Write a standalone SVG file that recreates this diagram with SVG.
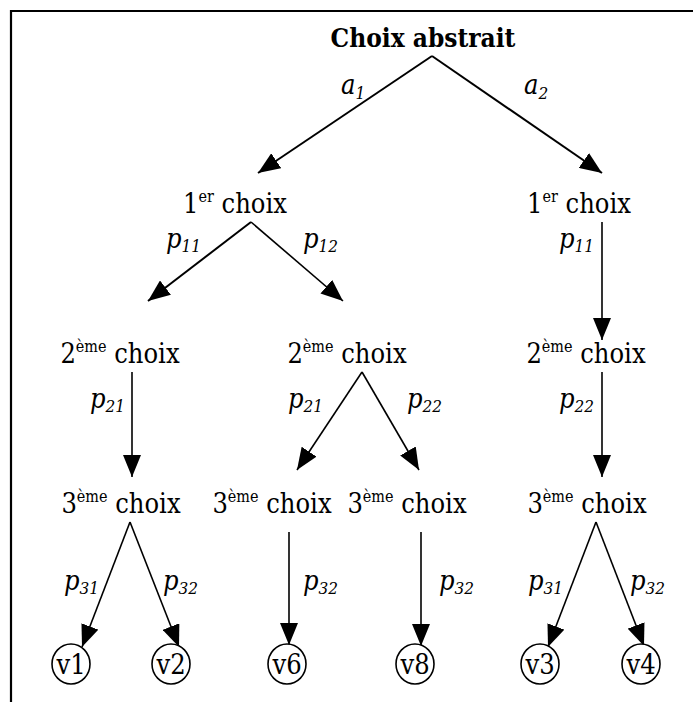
<svg xmlns="http://www.w3.org/2000/svg" width="693" height="702" viewBox="0 0 693 702" font-family="'DejaVu Serif Condensed', 'DejaVu Serif', serif">
<style>
.t{font-size:27px}
.b{font-weight:bold;font-size:26px}
.sup{font-size:16px}
.lab{font-size:27px;font-style:italic}
.sub{font-size:17px}
.e{stroke:#000;stroke-width:2;fill:none}
.e1{stroke:#000;stroke-width:1.6;fill:none}
.c{fill:#fff;stroke:#000;stroke-width:1.6}
</style>
<defs>
<marker id="ah" markerUnits="userSpaceOnUse" markerWidth="24" markerHeight="18" refX="22" refY="9" orient="auto">
<path d="M0,0 L22,9 L0,18 z" fill="#000"/>
</marker>
</defs>
<rect width="693" height="702" fill="#fff"/>
<path d="M11,702 V11 H693" stroke="#000" stroke-width="2.2" fill="none"/>

<g id="connectors">
<line class="e" x1="432" y1="56" x2="258" y2="173" marker-end="url(#ah)"/>
<line class="e" x1="432" y1="56" x2="602" y2="173" marker-end="url(#ah)"/>
<line class="e" x1="251" y1="222" x2="148" y2="301" marker-end="url(#ah)"/>
<line class="e1" x1="251" y1="222" x2="343" y2="301" marker-end="url(#ah)"/>
<line class="e1" x1="602" y1="222" x2="602" y2="340" marker-end="url(#ah)"/>
<line class="e1" x1="132" y1="372" x2="132" y2="477" marker-end="url(#ah)"/>
<line class="e1" x1="362" y1="372" x2="297" y2="470" marker-end="url(#ah)"/>
<line class="e1" x1="362" y1="372" x2="419" y2="470" marker-end="url(#ah)"/>
<line class="e1" x1="602" y1="372" x2="602" y2="477" marker-end="url(#ah)"/>
<line class="e1" x1="130" y1="522" x2="82" y2="647" marker-end="url(#ah)"/>
<line class="e1" x1="130" y1="522" x2="179" y2="647" marker-end="url(#ah)"/>
<line class="e1" x1="289" y1="532" x2="289" y2="645" marker-end="url(#ah)"/>
<line class="e1" x1="421" y1="532" x2="421" y2="646" marker-end="url(#ah)"/>
<line class="e1" x1="596" y1="522" x2="548" y2="647" marker-end="url(#ah)"/>
<line class="e1" x1="596" y1="522" x2="644" y2="646" marker-end="url(#ah)"/>
</g>

<g id="labels">
<text class="lab" x="341" y="94">a<tspan class="sub" dy="5">1</tspan></text>
<text class="lab" x="524" y="94">a<tspan class="sub" dy="5">2</tspan></text>
<text class="lab" x="166" y="248">p<tspan class="sub" dy="4">11</tspan></text>
<text class="lab" x="303" y="248">p<tspan class="sub" dy="4">12</tspan></text>
<text class="lab" x="559" y="248">p<tspan class="sub" dy="4">11</tspan></text>
<text class="lab" x="90" y="408">p<tspan class="sub" dy="4">21</tspan></text>
<text class="lab" x="288" y="408">p<tspan class="sub" dy="4">21</tspan></text>
<text class="lab" x="407" y="408">p<tspan class="sub" dy="4">22</tspan></text>
<text class="lab" x="559" y="408">p<tspan class="sub" dy="4">22</tspan></text>
<text class="lab" x="64" y="590">p<tspan class="sub" dy="4">31</tspan></text>
<text class="lab" x="163" y="590">p<tspan class="sub" dy="4">32</tspan></text>
<text class="lab" x="303" y="590">p<tspan class="sub" dy="4">32</tspan></text>
<text class="lab" x="439" y="590">p<tspan class="sub" dy="4">32</tspan></text>
<text class="lab" x="528" y="590">p<tspan class="sub" dy="4">31</tspan></text>
<text class="lab" x="630" y="590">p<tspan class="sub" dy="4">32</tspan></text>
</g>

<g id="root"><text class="b" x="423" y="47" text-anchor="middle">Choix abstrait</text></g>
<g id="c1a"><text class="t" x="235" y="213" text-anchor="middle">1<tspan class="sup" dy="-11">er</tspan><tspan dy="11"> choix</tspan></text></g>
<g id="c1b"><text class="t" x="579" y="213" text-anchor="middle">1<tspan class="sup" dy="-11">er</tspan><tspan dy="11"> choix</tspan></text></g>
<g id="c2a"><text class="t" x="120" y="363" text-anchor="middle">2<tspan class="sup" dy="-11">ème</tspan><tspan dy="11"> choix</tspan></text></g>
<g id="c2b"><text class="t" x="347" y="363" text-anchor="middle">2<tspan class="sup" dy="-11">ème</tspan><tspan dy="11"> choix</tspan></text></g>
<g id="c2c"><text class="t" x="586" y="363" text-anchor="middle">2<tspan class="sup" dy="-11">ème</tspan><tspan dy="11"> choix</tspan></text></g>
<g id="c3a"><text class="t" x="121" y="513" text-anchor="middle">3<tspan class="sup" dy="-11">ème</tspan><tspan dy="11"> choix</tspan></text></g>
<g id="c3b"><text class="t" x="272" y="513" text-anchor="middle">3<tspan class="sup" dy="-11">ème</tspan><tspan dy="11"> choix</tspan></text></g>
<g id="c3c"><text class="t" x="407" y="513" text-anchor="middle">3<tspan class="sup" dy="-11">ème</tspan><tspan dy="11"> choix</tspan></text></g>
<g id="c3d"><text class="t" x="587" y="513" text-anchor="middle">3<tspan class="sup" dy="-11">ème</tspan><tspan dy="11"> choix</tspan></text></g>

<g id="v1"><ellipse class="c" cx="71" cy="664" rx="19" ry="20"/><text class="t" x="71" y="674" text-anchor="middle">v1</text></g>
<g id="v2"><ellipse class="c" cx="171" cy="664" rx="19" ry="20"/><text class="t" x="171" y="674" text-anchor="middle">v2</text></g>
<g id="v6"><ellipse class="c" cx="287" cy="664" rx="19" ry="20"/><text class="t" x="287" y="674" text-anchor="middle">v6</text></g>
<g id="v8"><ellipse class="c" cx="415" cy="664" rx="19" ry="20"/><text class="t" x="415" y="674" text-anchor="middle">v8</text></g>
<g id="v3"><ellipse class="c" cx="540" cy="664" rx="19" ry="20"/><text class="t" x="540" y="674" text-anchor="middle">v3</text></g>
<g id="v4"><ellipse class="c" cx="641" cy="664" rx="19" ry="20"/><text class="t" x="641" y="674" text-anchor="middle">v4</text></g>
</svg>
